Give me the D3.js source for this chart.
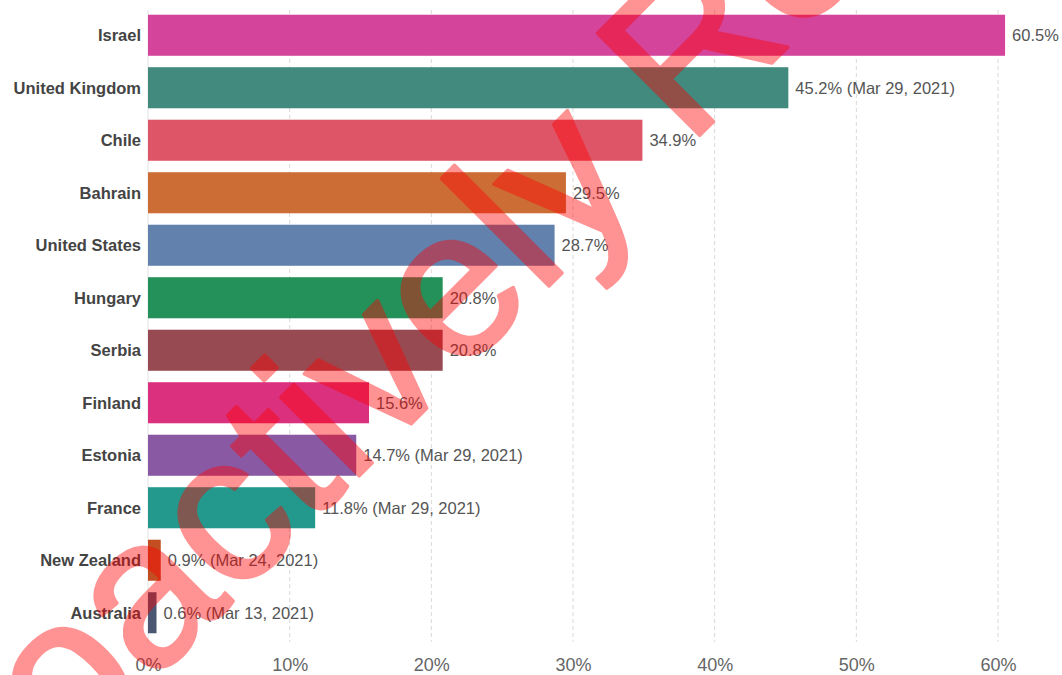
<!DOCTYPE html>
<html>
<head>
<meta charset="utf-8">
<script src="https://d3js.org/d3.v7.min.js"></script>
<style>
    body { margin: 0; background: #fff; }
    svg { font-family: "Liberation Sans", Arial, sans-serif; }
</style>
</head>
<body>
<svg width="1062" height="675"></svg>
<script>

// data
var countries = ["Israel", "United Kingdom", "Chile", "Bahrain", "United States", "Hungary",
                 "Serbia", "Finland", "Estonia", "France", "New Zealand", "Australia"];
var values = [60.5, 45.2, 34.9, 29.5, 28.7, 20.8, 20.8, 15.6, 14.7, 11.8, 0.9, 0.6];
var dates = ["", "Mar 29, 2021", "", "", "", "", "", "", "Mar 29, 2021", "Mar 29, 2021", "Mar 24, 2021", "Mar 13, 2021"];
var colors = ["#d4449b", "#428a7e", "#df5568", "#cc6d36", "#6281ad", "#239159",
              "#984a52", "#db307e", "#8a59a4", "#23998e", "#c24e22", "#4a5672"];
var ticks = [0, 10, 20, 30, 40, 50, 60];

var svg = d3.select("svg"),
    width = +svg.attr("width"),
    height = +svg.attr("height");

var x = d3.scaleLinear()
    .domain([0, 60])
    .range([148, 998]);

var y = d3.scaleBand()
    .domain(countries)
    .range([9, 639])
    .paddingInner(0.218)
    .paddingOuter(0.109);

// grid lines
svg.append("g")
  .selectAll("line")
  .data(ticks.slice(1))
  .enter().append("line")
    .attr("x1", function(d) { return x(d); })
    .attr("x2", function(d) { return x(d); })
    .attr("y1", 10)
    .attr("y2", 642)
    .attr("stroke", "#d9d9d9")
    .attr("stroke-dasharray", "4,3");

svg.append("line")
    .attr("x1", x(0)).attr("x2", x(0))
    .attr("y1", 10).attr("y2", 642)
    .attr("stroke", "#e2e2e2");

// bars
svg.append("g")
  .selectAll("rect")
  .data(values)
  .enter().append("rect")
    .attr("x", x(0))
    .attr("y", function(d, i) { return y(countries[i]); })
    .attr("width", function(d) { return x(d) - x(0); })
    .attr("height", y.bandwidth())
    .attr("fill", function(d, i) { return colors[i]; });

// value labels
svg.append("g")
  .selectAll("text")
  .data(values)
  .enter().append("text")
    .attr("x", function(d) { return x(d) + 7; })
    .attr("y", function(d, i) { return y(countries[i]) + y.bandwidth() / 2; })
    .attr("dy", "0.35em")
    .attr("font-size", "16.5px")
    .attr("fill", "#555")
    .text(function(d, i) { return d.toFixed(1) + "%" + (dates[i] ? " (" + dates[i] + ")" : ""); });

// country labels
svg.append("g")
  .selectAll("text")
  .data(countries)
  .enter().append("text")
    .attr("x", 141)
    .attr("y", function(d) { return y(d) + y.bandwidth() / 2; })
    .attr("dy", "0.35em")
    .attr("text-anchor", "end")
    .attr("font-size", "16.5px")
    .attr("font-weight", "bold")
    .attr("fill", "#444")
    .text(function(d) { return d; });

// x axis
var xAxis = svg.append("g")
    .attr("transform", "translate(0,650)")
    .call(d3.axisBottom(x)
        .tickValues(ticks)
        .tickSize(0)
        .tickFormat(function(d) { return d + "%"; }));
xAxis.select(".domain").remove();
xAxis.selectAll("text")
    .attr("font-family", "Liberation Sans, Arial, sans-serif")
    .attr("font-size", "18px")
    .attr("fill", "#666")
    .attr("y", 8)
    .attr("dy", "0.71em");

// watermark
svg.append("g")
    .attr("opacity", 0.42)
  .append("text")
    .attr("transform", "translate(-80,915) rotate(-45)")
    .attr("font-size", "210px")
    .attr("fill", "#ff0000")
    .attr("stroke", "#ff0000")
    .attr("stroke-width", 3.5)
    .attr("stroke-linejoin", "round")
    .text("Proactively Re");

</script>
</body>
</html>
